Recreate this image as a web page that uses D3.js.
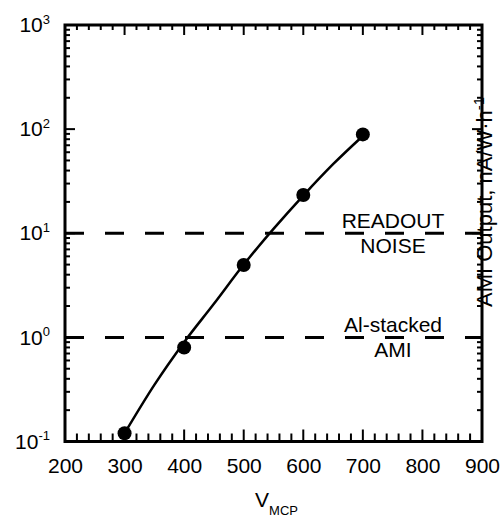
<!DOCTYPE html>
<html>
<head>
<meta charset="utf-8">
<script src="https://cdn.jsdelivr.net/npm/d3@7"></script>
<style>
  body { margin: 0; background: #fff; }
  svg { font-family: "Liberation Sans", Arial, sans-serif; }
</style>
</head>
<body>
<div id="chart"></div>
<script>
// measured points
const vmcp = [300, 400, 500, 600, 700];
const amiOutput = [0.12, 0.80, 4.96, 23.3, 89];

// fitted curve
const fitV = [300, 350, 400, 450, 500, 550, 600, 650, 700];
const fitOutput = [0.12, 0.35, 0.90, 2.1, 5.0, 11.0, 23, 46, 86];

// horizontal reference levels
const levelValues = [10, 1];
const levelLabels = [["READOUT", "NOISE"], ["Al-stacked", "AMI"]];

const xMajor = [200, 300, 400, 500, 600, 700, 800, 900];
const xMinor = d3.range(200, 901, 20).filter(v => v % 100 !== 0);
const yMajor = [0.1, 1, 10, 100, 1000];
const yExponents = ["-1", "0", "1", "2", "3"];
const yMinor = [];
[0.1, 1, 10, 100].forEach(d => { for (let k = 2; k <= 9; k++) yMinor.push(+(d * k).toPrecision(3)); });

const chartW = 501, chartH = 519;
const plot = {left: 65, right: 482, top: 25, bottom: 441.5};

const svg = d3.select('#chart').append('svg')
    .attr('width', chartW)
    .attr('height', chartH);

const x = d3.scaleLinear().domain([200, 900]).range([plot.left, plot.right]);
const y = d3.scaleLog().domain([0.1, 1000]).range([plot.bottom, plot.top]);

// tick labels from d3 axes (no tick lines there)
svg.append('g')
    .attr('transform', `translate(0,${plot.bottom})`)
    .call(d3.axisBottom(x).tickValues(xMajor).tickSize(0).tickPadding(17).tickFormat(d3.format('d')))
    .call(g => g.select('.domain').remove())
    .call(g => g.selectAll('text').attr('font-size', 21).attr('fill', '#000'));

svg.append('g')
    .attr('transform', `translate(${plot.left},0)`)
    .call(d3.axisLeft(y).tickValues(yMajor).tickSize(0).tickPadding(15).tickFormat(''))
    .call(g => g.select('.domain').remove())
    .call(g => g.selectAll('text')
        .attr('font-size', 21).attr('fill', '#000')
        .each(function(d, i) {
            const t = d3.select(this);
            t.append('tspan').text('10');
            t.append('tspan').attr('dy', -8.5).attr('font-size', 13).text(yExponents[i]);
        }));

// inward tick marks on all four sides
const tickGroup = svg.append('g').attr('class', 'ticks');
function xTicks(values, yBase, len, cls) {
    tickGroup.selectAll('.' + cls)
        .data(values)
        .join('line')
        .attr('class', cls)
        .attr('x1', d => x(d)).attr('x2', d => x(d))
        .attr('y1', yBase).attr('y2', yBase + len)
        .attr('stroke', '#000')
        .attr('stroke-width', 2);
}
function yTicks(values, xBase, len, cls) {
    tickGroup.selectAll('.' + cls)
        .data(values)
        .join('line')
        .attr('class', cls)
        .attr('y1', d => y(d)).attr('y2', d => y(d))
        .attr('x1', xBase).attr('x2', xBase + len)
        .attr('stroke', '#000')
        .attr('stroke-width', 2);
}
xTicks(xMinor, plot.bottom, -8, 'tb-minor');
xTicks(xMajor, plot.bottom, -12, 'tb-major');
xTicks(xMinor, plot.top, 5, 'tt-minor');
xTicks(xMajor, plot.top, 10, 'tt-major');
yTicks(yMinor, plot.left, 5, 'tl-minor');
yTicks(yMajor, plot.left, 10, 'tl-major');
yTicks(yMinor, plot.right, -5, 'tr-minor');
yTicks(yMajor, plot.right, -10, 'tr-major');

// frame
svg.append('rect')
    .attr('x', plot.left).attr('y', plot.top)
    .attr('width', plot.right - plot.left)
    .attr('height', plot.bottom - plot.top)
    .attr('fill', 'none')
    .attr('stroke', '#000')
    .attr('stroke-width', 3);

// dashed reference levels
svg.selectAll('.level')
    .data(levelValues)
    .join('line')
    .attr('class', 'level')
    .attr('x1', plot.left).attr('x2', plot.right)
    .attr('y1', d => y(d)).attr('y2', d => y(d))
    .attr('stroke', '#000')
    .attr('stroke-width', 3)
    .attr('stroke-dasharray', '19,21');

levelValues.forEach((v, i) => {
    svg.append('text')
        .attr('x', 393).attr('y', y(v) - 5)
        .attr('text-anchor', 'middle').attr('font-size', 21)
        .text(levelLabels[i][0]);
    svg.append('text')
        .attr('x', 393).attr('y', y(v) + 20)
        .attr('text-anchor', 'middle').attr('font-size', 21)
        .text(levelLabels[i][1]);
});

// fit curve and points
const fit = fitV.map((v, i) => [v, fitOutput[i]]);
svg.append('path')
    .datum(fit)
    .attr('fill', 'none')
    .attr('stroke', '#000')
    .attr('stroke-width', 2.5)
    .attr('d', d3.line().x(d => x(d[0])).y(d => y(d[1])).curve(d3.curveMonotoneX));

svg.selectAll('.pt')
    .data(vmcp.map((v, i) => [v, amiOutput[i]]))
    .join('circle')
    .attr('class', 'pt')
    .attr('cx', d => x(d[0]))
    .attr('cy', d => y(d[1]))
    .attr('r', 7)
    .attr('fill', '#000');

// axis titles
const xt = svg.append('text')
    .attr('x', (plot.left + plot.right) / 2 + 3).attr('y', 506.5)
    .attr('text-anchor', 'middle').attr('font-size', 21);
xt.append('tspan').text('V');
xt.append('tspan').attr('dy', 8).attr('font-size', 13).text('MCP');

const yt = svg.append('text')
    .attr('transform', `translate(492,307) rotate(-90)`)
    .attr('font-size', 22);
yt.append('tspan').text('AMI Output, nA/W·h');
yt.append('tspan').attr('dy', -8).attr('font-size', 15).text('-1');
</script>
</body>
</html>
